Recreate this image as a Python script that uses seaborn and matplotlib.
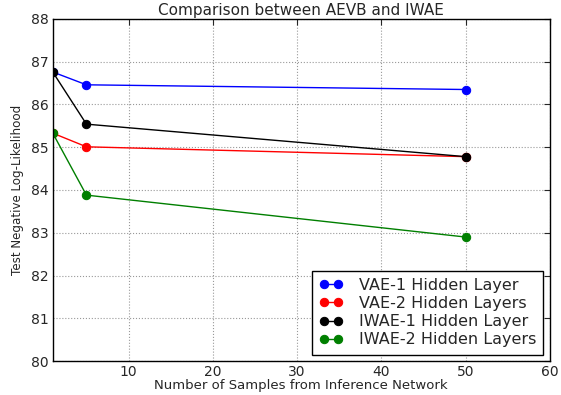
import matplotlib
matplotlib.use("Agg")
import matplotlib.pyplot as plt
import seaborn as sns
import pandas as pd

samples = [1, 5, 50]
vae1 = [86.76, 86.46, 86.35]
vae2 = [85.33, 85.01, 84.78]
iwae1 = [86.76, 85.54, 84.78]
iwae2 = [85.33, 83.88, 82.90]
labels = ["VAE-1 Hidden Layer", "VAE-2 Hidden Layers", "IWAE-1 Hidden Layer", "IWAE-2 Hidden Layers"]
colors = ["#0000ff", "#ff0000", "#000000", "#007f00"]
xticks = [10, 20, 30, 40, 50, 60]
yticks = [80, 81, 82, 83, 84, 85, 86, 87, 88]

sns.set_style("white")
plt.rcParams['font.family'] = ['DejaVu Sans']

fig = plt.figure(figsize=(5.61, 3.95), dpi=100)
ax = fig.add_axes([0.094, 0.086, 0.886, 0.866])

for vals, lab, col in zip([vae1, vae2, iwae1, iwae2], labels, colors):
    df = pd.DataFrame({"x": samples, "y": vals})
    sns.lineplot(data=df, x="x", y="y", ax=ax, color=col, marker="o", markersize=6,
                 markeredgecolor=col, linewidth=1, label=lab)

ax.set_xlim(1, 60)
ax.set_ylim(80, 88)
ax.set_xticks(xticks)
ax.set_yticks(yticks)
ax.grid(True, color="#999999", linestyle=":", linewidth=0.8)
ax.tick_params(direction="in", top=True, right=True, labelsize=10, length=4, width=0.8, pad=3)
for sp in ax.spines.values():
    sp.set_visible(True)
    sp.set_color("black")
    sp.set_linewidth(1)
ax.set_xlabel("Number of Samples from Inference Network", fontsize=9.5, labelpad=0)
ax.set_ylabel("Test Negative Log-Likelihood", fontsize=8.6, labelpad=5)
ax.set_title("Comparison between AEVB and IWAE", fontsize=11, pad=3)
leg = ax.legend(loc="lower right", numpoints=2, fontsize=11.5, frameon=True, fancybox=False,
                framealpha=1, edgecolor="black", borderaxespad=0.4, handlelength=1.5,
                handletextpad=1.0, labelspacing=0.2, borderpad=0.45)
leg.get_frame().set_linewidth(1)
fig.savefig("out.png", dpi=100)
